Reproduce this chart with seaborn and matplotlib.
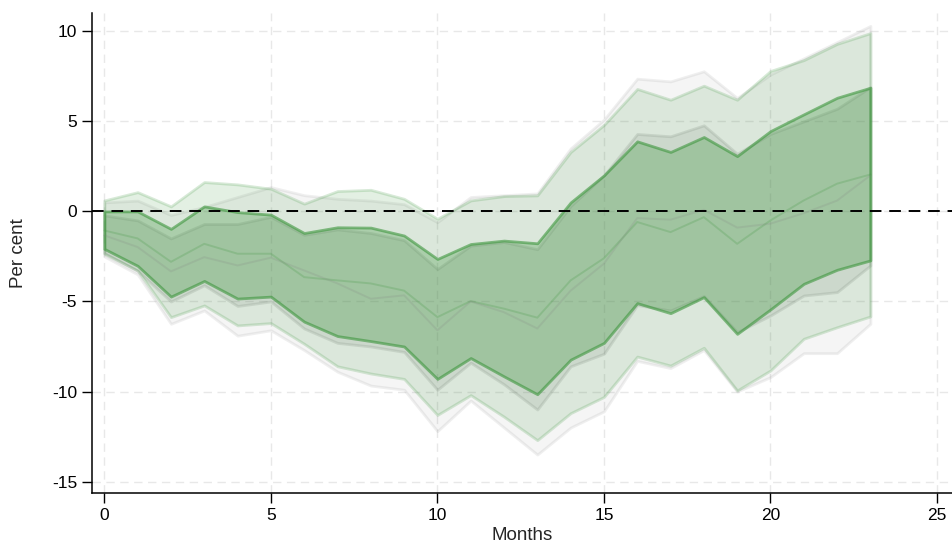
import numpy as np
import pandas as pd
import matplotlib
matplotlib.use("Agg")
import matplotlib.pyplot as plt
import seaborn as sns

# data (months 0..23)
months = list(range(24))

green_inner_hi = [0.0, 0.0, -0.97, 0.28, -0.04, -0.18, -1.2, -0.88, -0.9, -1.34, -2.64, -1.81,
                  -1.62, -1.77, 0.5, 2.0, 3.89, 3.3, 4.13, 3.07, 4.46, 5.39, 6.31, 6.87]
green_inner_lo = [-2.08, -3.02, -4.73, -3.86, -4.84, -4.73, -6.12, -6.92, -7.2, -7.5, -9.3, -8.14,
                  -9.16, -10.15, -8.23, -7.3, -5.09, -5.65, -4.76, -6.8, -5.44, -4.02, -3.24, -2.72]
green_outer_hi = [0.61, 1.07, 0.28, 1.63, 1.5, 1.26, 0.43, 1.13, 1.2, 0.7, -0.41, 0.61,
                  0.85, 0.89, 3.3, 4.8, 6.8, 6.2, 6.98, 6.2, 7.8, 8.4, 9.3, 9.9]
green_outer_lo = [-2.35, -3.28, -5.87, -5.22, -6.33, -6.2, -7.35, -8.6, -9.0, -9.3, -11.3, -10.2,
                  -11.4, -12.7, -11.2, -10.3, -8.06, -8.56, -7.57, -9.94, -8.83, -7.07, -6.43, -5.83]

grey_inner_hi = [-0.22, -0.5, -1.5, -0.7, -0.7, -0.3, -1.3, -1.0, -1.2, -1.6, -3.2, -1.9,
                 -1.7, -2.1, 0.3, 2.0, 4.3, 4.17, 4.78, 3.2, 4.3, 5.0, 5.7, 6.9]
grey_inner_lo = [-2.3, -3.3, -5.0, -4.1, -5.25, -5.0, -6.5, -7.3, -7.5, -7.8, -9.9, -8.4,
                 -9.6, -11.0, -8.6, -7.9, -5.2, -5.5, -4.7, -6.7, -5.78, -4.67, -4.48, -3.0]
grey_outer_hi = [0.5, 0.6, -0.2, 0.25, 0.8, 1.35, 0.9, 0.7, 0.6, 0.4, -0.6, 0.8,
                 0.9, 1.0, 3.5, 5.1, 7.37, 7.22, 7.78, 6.3, 7.6, 8.5, 9.4, 10.3]
grey_outer_lo = [-2.5, -3.5, -6.24, -5.5, -6.9, -6.6, -7.7, -8.9, -9.67, -9.9, -12.2, -10.5,
                 -12.0, -13.5, -12.0, -11.1, -8.3, -8.7, -7.7, -10.0, -9.2, -7.87, -7.87, -6.24]

green_mid = [-1.06, -1.5, -2.8, -1.8, -2.35, -2.35, -3.65, -3.83, -4.0, -4.4, -5.87, -4.98,
             -5.4, -5.9, -3.83, -2.6, -0.59, -1.15, -0.32, -1.8, -0.5, 0.61, 1.54, 2.05]
grey_mid = [-1.33, -1.98, -3.33, -2.54, -3.0, -2.57, -3.28, -4.0, -4.85, -4.66, -6.6, -5.0,
            -5.6, -6.5, -4.4, -2.9, -0.37, -0.46, 0.09, -0.9, -0.68, -0.1, 0.6, 2.0]

sns.set_style("white")
plt.rcParams['font.family'] = ['Liberation Sans', 'DejaVu Sans']
plt.rcParams['axes.unicode_minus'] = False

green = (0.24, 0.59, 0.24)
grey = (0.5, 0.5, 0.5)

fig = plt.figure(figsize=(9.52, 5.49), dpi=100)
ax = fig.add_axes([0.0963, 0.1015, 0.9037, 0.8743])

# grey bands
ax.fill_between(months, grey_outer_lo, grey_outer_hi, facecolor=(*grey, 0.08),
                edgecolor=(*grey, 0.12), linewidth=2)
ax.fill_between(months, grey_inner_lo, grey_inner_hi, facecolor=(*grey, 0.14),
                edgecolor=(*grey, 0.2), linewidth=2)
# green bands
ax.fill_between(months, green_outer_lo, green_outer_hi, facecolor=(*green, 0.14),
                edgecolor=(*green, 0.2), linewidth=2)
ax.fill_between(months, green_inner_lo, green_inner_hi, facecolor=(*green, 0.3),
                edgecolor=(*green, 0.6), linewidth=2)

df = pd.DataFrame({"Months": months, "green": green_mid, "grey": grey_mid})
sns.lineplot(data=df, x="Months", y="green", ax=ax, color=green, alpha=0.22, linewidth=1.4)
sns.lineplot(data=df, x="Months", y="grey", ax=ax, color=grey, alpha=0.18, linewidth=1.4)

ax.axhline(0, color="black", linestyle=(0, (6, 4)), linewidth=1.4, zorder=5)

ax.set_xlim(-0.38, 25.45)
ax.set_ylim(-15.65, 11.0)
ax.set_xticks(range(0, 26, 5))
ax.set_yticks(range(-15, 11, 5))
ax.grid(True, color="#e8e8e8", linestyle=(0, (6, 4)), linewidth=1)
ax.set_axisbelow(True)

for s in ["top", "right"]:
    ax.spines[s].set_visible(False)
for s in ["left", "bottom"]:
    ax.spines[s].set_color("black")
    ax.spines[s].set_linewidth(1.1)

ax.tick_params(axis="both", which="major", direction="out", length=7, width=1,
               color="black", labelsize=12.5, labelcolor="black", left=True, bottom=True)
ax.set_xlabel("Months", fontsize=13.5, labelpad=3)
ax.set_ylabel("Per cent", fontsize=13.5, labelpad=18)

fig.savefig("out.png", dpi=100)
